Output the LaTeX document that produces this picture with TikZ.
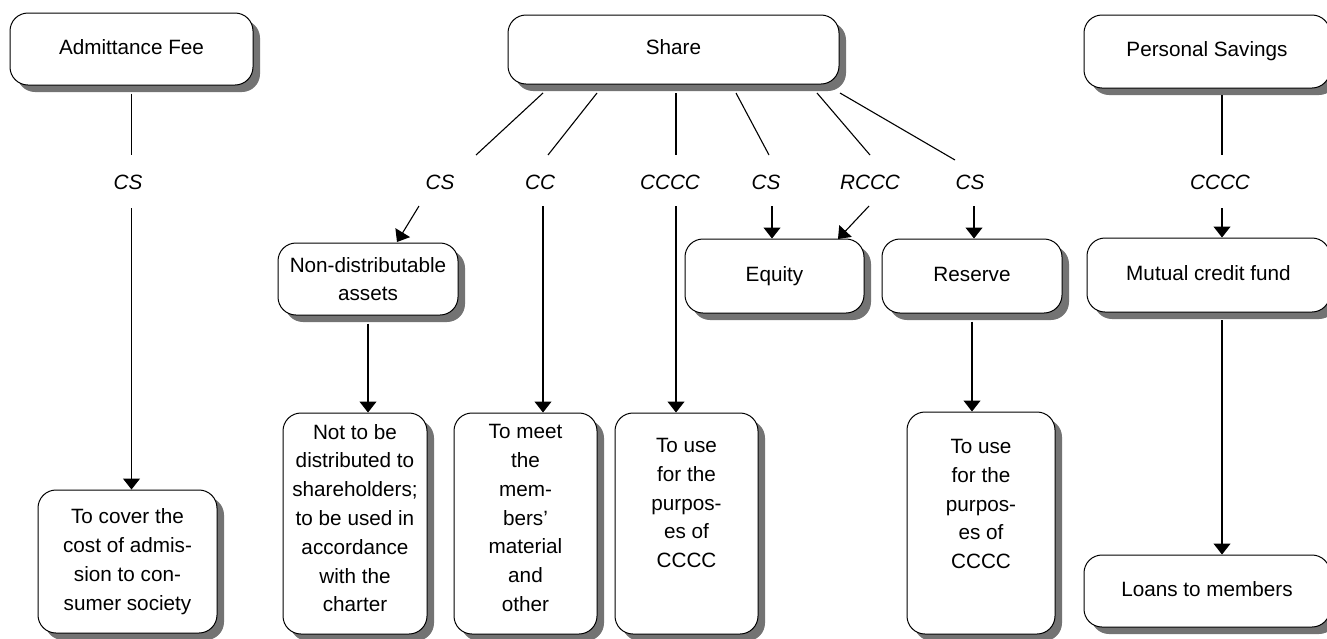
\documentclass[tikz,border=0pt]{standalone}
\usepackage{fontspec}
\setmainfont{Liberation Sans}
\usetikzlibrary{arrows.meta,shadows}
\begin{document}
\begin{tikzpicture}[x=1pt,y=-1pt,
  box/.style={draw, line width=1pt, rounded corners=18pt, fill=white,
    drop shadow={shadow xshift=7pt, shadow yshift=-7pt, fill=black!55, opacity=1},
    align=center, inner sep=0pt, font=\fontsize{20.7pt}{28.8pt}\selectfont},
  one/.style={text height=15pt, text depth=5pt},
  txt/.style={align=center, inner sep=0pt, font=\fontsize{20.7pt}{28.8pt}\selectfont},
  lab/.style={inner xsep=0pt, inner ysep=19pt, text height=15pt, text depth=0pt,
    font=\fontsize{20.7pt}{24pt}\selectfont\itshape},
  ln/.style={line width=1.1pt},
  arr/.style={line width=1.1pt, -{Triangle[width=17pt,length=11pt]}}]
\useasboundingbox (0,0) rectangle (1327,638);

% boxes
\node[box,one,minimum width=243pt,minimum height=72pt] (adm) at (131.5,49) {Admittance Fee};
\node[box,one,minimum width=331pt,minimum height=69pt] (share) at (673.5,49.5) {Share};
\node[box,one,minimum width=246pt,minimum height=73pt] (ps) at (1207,51.5) {Personal Savings};
\node[box,minimum width=180pt,minimum height=72pt] (nda) at (368,279) {Non-distributable\\assets};
\node[box,one,minimum width=179pt,minimum height=74pt] (eq) at (774.5,276) {Equity};
\node[box,one,minimum width=180pt,minimum height=74pt] (res) at (972,276) {Reserve};
\node[box,one,minimum width=243pt,minimum height=74pt] (mcf) at (1208.5,275) {Mutual credit fund};
\node[box,minimum width=179pt,minimum height=143pt] (cover) at (127.5,561.5) {To cover the\\cost of admis-\\sion to con-\\sumer society};
\node[box,minimum width=144pt,minimum height=221pt] (nb) at (355,523.5) {};
\node[txt] (nbt) at (355,518) {Not to be\\distributed to\\shareholders;\\to be used in\\accordance\\with the\\charter};
\node[box,minimum width=143pt,minimum height=221pt] (meet) at (525.5,523.5) {};
\node[txt] (meett) at (525.5,518) {To meet\\the\\mem-\\bers’\\material\\and\\other};
\node[box,minimum width=143pt,minimum height=221pt] (use1) at (686.5,523.5) {};
\node[txt] (use1t) at (686.5,503) {To use\\for the\\purpos-\\es of\\CCCC};
\node[box,minimum width=148pt,minimum height=222pt] (use2) at (981,523) {};
\node[txt] (use2t) at (981,504) {To use\\for the\\purpos-\\es of\\CCCC};
\node[box,one,minimum width=246pt,minimum height=72pt] (loans) at (1207,591) {Loans to members};

% labels
\node[lab] (L1) at (128,181.5) {CS};
\node[lab] (L2) at (440,181.5) {CS};
\node[lab] (L3) at (540,181.5) {CC};
\node[lab] (L4) at (670,181.5) {CCCC};
\node[lab] (L5) at (766,181.5) {CS};
\node[lab] (L6) at (870,181.5) {RCCC};
\node[lab] (L7) at (970,181.5) {CS};
\node[lab] (L8) at (1220,181.5) {CCCC};

% left column
\draw[ln] ([yshift=-8pt]adm.south) -- (adm.south |- L1.north);
\draw[arr] (adm.south |- L1.south) -- (adm.south |- cover.north);

% share fan
\coordinate (s1a) at (543,93); \coordinate (s1b) at (476,155);
\coordinate (s2a) at (597,93); \coordinate (s2b) at (548,155);
\coordinate (s3a) at (676,93); \coordinate (s3b) at (676,155);
\coordinate (s4a) at (736,93); \coordinate (s4b) at (769,155);
\coordinate (s5a) at (817,93); \coordinate (s5b) at (870,155);
\coordinate (s6a) at (840,93); \coordinate (s6b) at (955,160);
\foreach \i in {1,...,6} {\draw[ln] (s\i a) -- (s\i b);}

% arrows below labels
\coordinate (d2) at (419,206); \coordinate (d2e) at (397,242);
\draw[arr] (d2) -- (d2e);
\coordinate (d3) at (543,206);
\draw[arr] (d3) -- (d3 |- meet.north);
\coordinate (d4) at (676,206);
\draw[arr] (d4) -- (d4 |- use1.north);
\coordinate (d5) at (772,206);
\draw[arr] (d5) -- (d5 |- eq.north);
\coordinate (d6) at (869,206); \coordinate (d6e) at (838,239);
\draw[arr] (d6) -- (d6e);
\coordinate (d7) at (974,206);
\draw[arr] (d7) -- (d7 |- res.north);

% second level
\draw[arr] ([yshift=-8pt]nda.south) -- (nda.south |- nb.north);
\draw[arr] ([yshift=-8pt]res.south) -- (res.south |- use2.north);

% right column
\coordinate (r1) at (1222,95);
\coordinate (r4) at (1222,320);
\draw[ln] (r1) -- (r1 |- L8.north);
\draw[arr] (r1 |- L8.south) -- (r1 |- mcf.north);
\draw[arr] (r4) -- (r4 |- loans.north);
\end{tikzpicture}
\end{document}
